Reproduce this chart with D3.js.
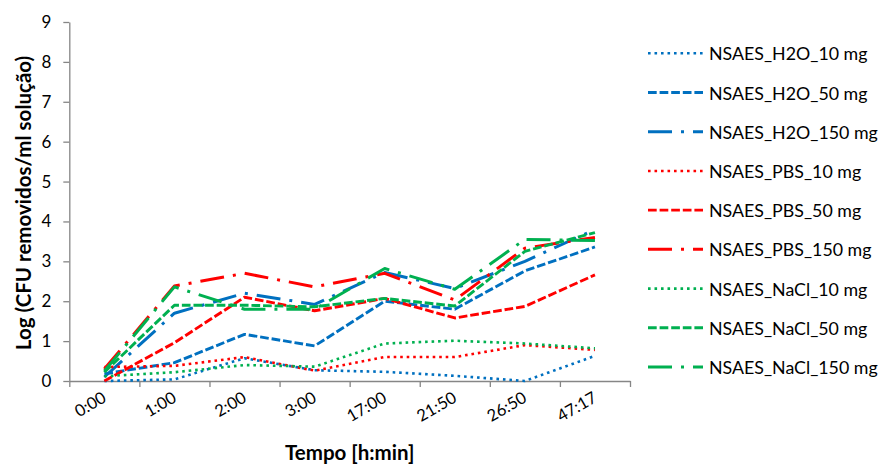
<!DOCTYPE html>
<html>
<head>
<meta charset="utf-8">
<script src="https://cdn.jsdelivr.net/npm/d3@7"></script>
<style>
  html, body { margin: 0; padding: 0; background: #fff; }
  svg { display: block; font-family: Lato, "Open Sans", sans-serif; }
</style>
</head>
<body>
<svg id="chart" width="881" height="464"></svg>
<script>
// Sampling times (h:min)
const categories = ["0:00", "1:00", "2:00", "3:00", "17:00", "21:50", "26:50", "47:17"];
const yTicks = [0, 1, 2, 3, 4, 5, 6, 7, 8, 9];

// Log(CFU removed / ml solution) for each extract medium and dose
const h2o10   = [0.00, 0.04, 0.57, 0.27, 0.23, 0.13, 0.00, 0.63];
const h2o50   = [0.18, 0.46, 1.17, 0.88, 2.00, 1.80, 2.76, 3.36];
const h2o150  = [0.10, 1.70, 2.20, 1.92, 2.72, 2.32, 3.00, 3.80];
const pbs10   = [0.35, 0.38, 0.60, 0.26, 0.60, 0.60, 0.90, 0.78];
const pbs50   = [0.00, 0.96, 2.10, 1.76, 2.07, 1.58, 1.87, 2.66];
const pbs150  = [0.30, 2.38, 2.70, 2.36, 2.70, 2.03, 3.33, 3.60];
const nacl10  = [0.12, 0.22, 0.40, 0.36, 0.94, 1.01, 0.94, 0.82];
const nacl50  = [0.22, 1.90, 1.90, 1.86, 2.07, 1.88, 3.25, 3.72];
const nacl150 = [0.25, 2.36, 1.80, 1.80, 2.82, 2.30, 3.55, 3.52];

const seriesNames = [
  "NSAES_H2O_10 mg", "NSAES_H2O_50 mg", "NSAES_H2O_150 mg",
  "NSAES_PBS_10 mg", "NSAES_PBS_50 mg", "NSAES_PBS_150 mg",
  "NSAES_NaCl_10 mg", "NSAES_NaCl_50 mg", "NSAES_NaCl_150 mg"
];
const seriesValues = [h2o10, h2o50, h2o150, pbs10, pbs50, pbs150, nacl10, nacl50, nacl150];

// Styling per series: medium -> colour, dose -> dash style
const mediumColors = ["#0070C0", "#FF0000", "#00B050"];
const doseStyles = [
  { width: 2.6, dash: "2.6 3.9" },        // 10 mg: dotted
  { width: 2.9, dash: "8.7 2.9" },        // 50 mg: dashed
  { width: 3.0, dash: "24 9 3 9" }        // 150 mg: long dash-dot
];

const series = seriesNames.map((name, i) => ({
  name,
  values: seriesValues[i],
  color: mediumColors[Math.floor(i / 3)],
  style: doseStyles[i % 3]
}));

const svg = d3.select("#chart");
const plot = { left: 69.3, right: 630, top: 22, bottom: 381 };
const axisColor = "#868686";
const textColor = "#000";

const x = d3.scaleBand().domain(categories).range([plot.left, plot.right]).padding(0);
const xEdges = d3.scaleLinear().domain([0, categories.length]).range([plot.left, plot.right]);
const y = d3.scaleLinear().domain([0, 9]).range([plot.bottom, plot.top]);
const cx = c => x(c) + x.bandwidth() / 2;

// Y axis
const yAxis = svg.append("g")
  .attr("transform", `translate(${plot.left},0)`)
  .call(d3.axisLeft(y).tickValues(yTicks).tickFormat(d3.format("d")).tickSize(6).tickSizeOuter(0).tickPadding(12));
yAxis.select(".domain").attr("stroke", axisColor).attr("stroke-width", 1.3);
yAxis.selectAll(".tick line").attr("stroke", axisColor).attr("stroke-width", 1.3);
yAxis.selectAll(".tick text")
  .attr("fill", textColor).attr("font-size", 17).attr("font-family", "Lato, sans-serif");

// X axis: tick marks on category boundaries
const xAxis = svg.append("g")
  .attr("transform", `translate(0,${plot.bottom})`)
  .call(d3.axisBottom(xEdges).ticks(categories.length).tickFormat("").tickSize(6).tickSizeOuter(0));
xAxis.select(".domain").attr("stroke", axisColor).attr("stroke-width", 1.3);
xAxis.selectAll(".tick line").attr("stroke", axisColor).attr("stroke-width", 1.3);

// Rotated category labels
svg.append("g").selectAll("text")
  .data(categories)
  .join("text")
  .attr("transform", d => `translate(${cx(d) + 3},${plot.bottom + 20}) rotate(-30)`)
  .attr("text-anchor", "end")
  .attr("font-size", 16.5)
  .attr("fill", textColor)
  .text(d => d);

// Axis titles
svg.append("text")
  .attr("x", (plot.left + plot.right) / 2)
  .attr("y", 460)
  .attr("text-anchor", "middle")
  .attr("font-size", 20.5)
  .attr("font-weight", "bold")
  .attr("fill", textColor)
  .text("Tempo [h:min]");

svg.append("text")
  .attr("transform", `translate(31,203) rotate(-90)`)
  .attr("text-anchor", "middle")
  .attr("font-size", 20.5)
  .attr("font-weight", "bold")
  .attr("fill", textColor)
  .text("Log (CFU removidos/ml solução)");

// Series lines
const line = d3.line().x((d, i) => cx(categories[i])).y(d => y(d));
svg.append("g").selectAll("path")
  .data(series)
  .join("path")
  .attr("d", s => line(s.values))
  .attr("fill", "none")
  .attr("stroke", s => s.color)
  .attr("stroke-width", s => s.style.width)
  .attr("stroke-dasharray", s => s.style.dash)
  .attr("stroke-linejoin", "round");

// Legend
const legend = svg.append("g");
const legendY = d3.scaleLinear().domain([0, series.length - 1]).range([53.3, 367]);
const items = legend.selectAll("g").data(series).join("g")
  .attr("transform", (s, i) => `translate(648,${legendY(i)})`);
items.append("line")
  .attr("x1", 0).attr("x2", 55).attr("y1", 0).attr("y2", 0)
  .attr("stroke", s => s.color)
  .attr("stroke-width", s => s.style.width)
  .attr("stroke-dasharray", s => s.style.dash);
items.append("text")
  .attr("x", 61).attr("y", 7)
  .attr("font-size", 17.8)
  .attr("fill", textColor)
  .text(s => s.name);
</script>
</body>
</html>
